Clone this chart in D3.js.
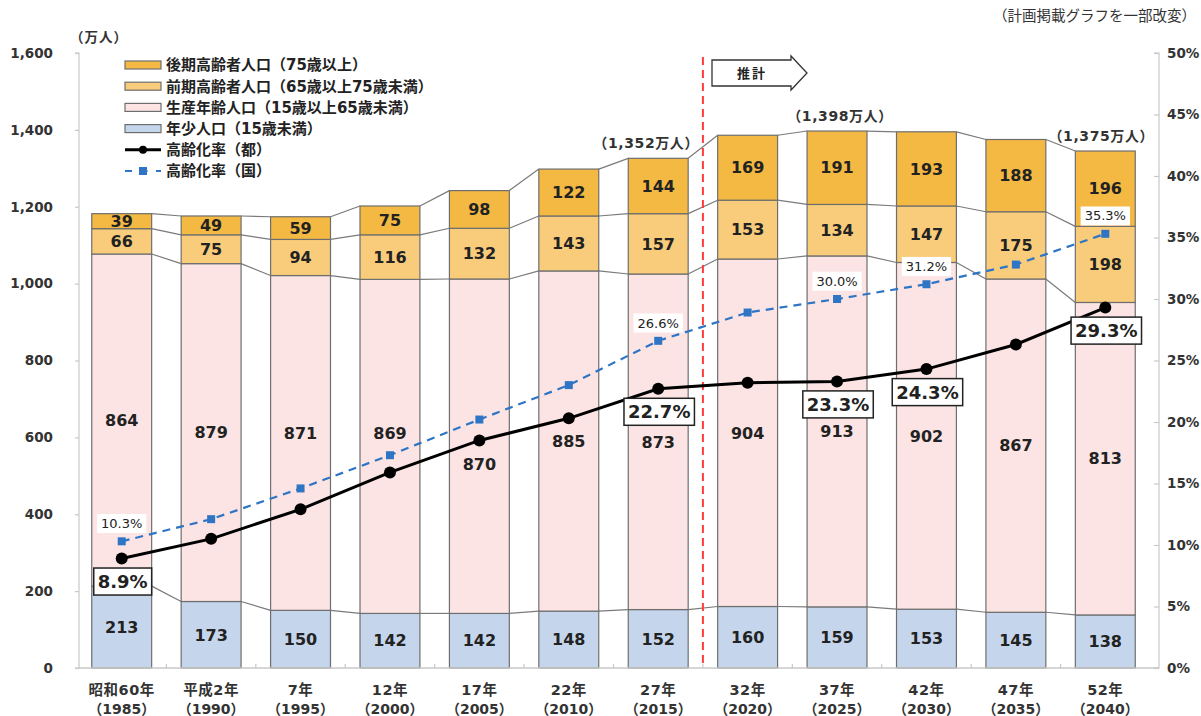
<!DOCTYPE html>
<html><head><meta charset="utf-8">
<script src="https://cdn.jsdelivr.net/npm/d3@7"></script>
<style>
html,body{margin:0;padding:0;background:#fff;}
svg text{font-family:"DejaVu Sans","Noto Sans CJK JP",sans-serif;}
</style></head>
<body>
<svg id="c" width="1201" height="716"></svg>
<script>
const categories = ["昭和60年","平成2年","7年","12年","17年","22年","27年","32年","37年","42年","47年","52年"];
const years = ["1985","1990","1995","2000","2005","2010","2015","2020","2025","2030","2035","2040"];
const youngPop   = [213,173,150,142,142,148,152,160,159,153,145,138];
const workingPop = [864,879,871,869,870,885,873,904,913,902,867,813];
const earlyOld   = [66,75,94,116,132,143,157,153,134,147,175,198];
const lateOld    = [39,49,59,75,98,122,144,169,191,193,188,196];
const rateTokyo  = [8.9,10.5,12.9,15.9,18.5,20.3,22.7,23.2,23.3,24.3,26.3,29.3];
const rateJapan  = [10.3,12.1,14.6,17.3,20.2,23.0,26.6,28.9,30.0,31.2,32.8,35.3];
const labeledRateIdx = [0,6,8,9,11];
const totalLabels = [null,null,null,null,null,null,"（1,352万人）",null,"（1,398万人）",null,null,"（1,375万人）"];
const leftTicks = [0,200,400,600,800,1000,1200,1400,1600];
const rightTicks = [0,5,10,15,20,25,30,35,40,45,50];

const seriesNames = ["年少人口（15歳未満）","生産年齢人口（15歳以上65歳未満）","前期高齢者人口（65歳以上75歳未満）","後期高齢者人口（75歳以上）"];
const seriesColors = ["#c5d6ec","#fce4e4","#f8cc7a","#f4b942"];
const seriesData = [youngPop, workingPop, earlyOld, lateOld];

const svg = d3.select("#c");
const FONT = '"DejaVu Sans","Noto Sans CJK JP",sans-serif';

const x = d3.scaleBand().domain(categories).range([77,1150]).paddingInner(0.33).paddingOuter(0.165);
const y = d3.scaleLinear().domain([0,1600]).range([668,53]);
const yp = d3.scaleLinear().domain([0,50]).range([668,53]);
const bw = x.bandwidth();

const rows = categories.map((c,i)=>{const o={cat:c}; seriesData.forEach((s,k)=>o["s"+k]=s[i]); return o;});
const stack = d3.stack().keys(["s0","s1","s2","s3"])(rows);

const g = svg.append("g");
stack.forEach((layer,k)=>{
  g.selectAll(null).data(layer).enter().append("rect")
    .attr("x",d=>x(d.data.cat)).attr("width",bw)
    .attr("y",d=>y(d[1])).attr("height",d=>y(d[0])-y(d[1]))
    .attr("fill",seriesColors[k]).attr("stroke","#6e6e6e").attr("stroke-width",1.2);
});
stack.forEach((layer)=>{
  for(let i=0;i<layer.length-1;i++){
    g.append("line")
      .attr("x1",x(categories[i])+bw).attr("x2",x(categories[i+1]))
      .attr("y1",y(layer[i][1])).attr("y2",y(layer[i+1][1]))
      .attr("stroke","#7a7a7a").attr("stroke-width",1.2);
  }
});

const axisColor="#c8c8c8";
const gl = svg.append("g").attr("transform","translate(79,0)")
  .call(d3.axisLeft(y).tickValues(leftTicks).tickSize(4).tickPadding(22).tickFormat(d3.format(",")));
const gr = svg.append("g").attr("transform","translate(1159,0)")
  .call(d3.axisRight(yp).tickValues(rightTicks).tickSize(-5).tickPadding(8).tickFormat(d=>d+"%"));
[gl,gr].forEach(a=>{
  a.selectAll("path,line").attr("stroke",axisColor).attr("stroke-width",1.2);
  a.select(".domain").attr("d", a===gl? "M-4,53H0V668H-4":"M-5,53H0V668H-5");
  a.selectAll("text").attr("font-family",FONT).attr("font-size",13.5).attr("font-weight","bold").attr("fill","#333");
});
svg.append("line").attr("x1",79).attr("x2",1159).attr("y1",668).attr("y2",668).attr("stroke",axisColor).attr("stroke-width",1.5);
for(let i=1;i<categories.length;i++){
  const bx = x(categories[i]) - x.step()*x.paddingInner()/2;
  svg.append("line").attr("x1",bx).attr("x2",bx).attr("y1",668).attr("y2",664).attr("stroke",axisColor).attr("stroke-width",1.2);
}
categories.forEach((c,i)=>{
  const cx = x(c)+bw/2;
  svg.append("text").attr("x",cx).attr("y",695).attr("text-anchor","middle")
    .attr("font-size",14.5).attr("font-weight","bold").attr("fill","#333").attr("letter-spacing","0.5px").text(c);
  svg.append("text").attr("x",cx).attr("y",714).attr("text-anchor","middle")
    .attr("font-size",14).attr("font-weight","bold").attr("fill","#333").text("（"+years[i]+"）");
});

const workDy = [0,0,-10,-13,18,0,0,0,0,0,0,0];
stack.forEach((layer,k)=>{
  layer.forEach((d,i)=>{
    let cy = (y(d[0])+y(d[1]))/2 + (k===1?workDy[i]:0);
    svg.append("text").attr("x",x(d.data.cat)+bw/2).attr("y",cy).attr("dy","0.36em")
      .attr("text-anchor","middle").attr("font-size",16).attr("font-weight","bold").attr("fill","#222")
      .text(d[1]-d[0]);
  });
});

const divX = (x(categories[6])+bw + x(categories[7]))/2;
svg.append("line").attr("x1",divX).attr("x2",divX).attr("y1",57).attr("y2",668)
  .attr("stroke","#ff3b3b").attr("stroke-width",2).attr("stroke-dasharray","8,5");

svg.append("path").attr("d","M712,60H791V56L807,73L791,90V86H712Z")
  .attr("fill","#fff").attr("stroke","#333").attr("stroke-width",1.3);
svg.append("text").attr("x",752).attr("y",73).attr("dy","0.36em").attr("text-anchor","middle")
  .attr("font-size",13).attr("font-weight","bold").attr("fill","#222").attr("letter-spacing","2px").text("推計");

const totalDx = [0,0,0,0,0,0,-12,0,3,0,0,-4];
totalLabels.forEach((t,i)=>{
  if(!t) return;
  const tot = youngPop[i]+workingPop[i]+earlyOld[i]+lateOld[i];
  svg.append("text").attr("x",x(categories[i])+bw/2+totalDx[i]).attr("y",y(tot)-15).attr("dy","0.36em")
    .attr("text-anchor","middle").attr("font-size",14).attr("font-weight","bold").attr("fill","#333")
    .attr("letter-spacing","0.6px").text(t);
});

const cx = (i)=>x(categories[i])+bw/2;
const lineJ = d3.line().x((d,i)=>cx(i)).y(d=>yp(d));
svg.append("path").datum(rateJapan).attr("d",lineJ).attr("fill","none")
  .attr("stroke","#2e75c6").attr("stroke-width",2.2).attr("stroke-dasharray","8,6");
svg.append("path").datum(rateTokyo).attr("d",lineJ).attr("fill","none")
  .attr("stroke","#000").attr("stroke-width",3);
svg.selectAll(null).data(rateJapan).enter().append("rect")
  .attr("x",(d,i)=>cx(i)-4).attr("y",d=>yp(d)-4).attr("width",8).attr("height",8).attr("fill","#2e75c6");
svg.selectAll(null).data(rateTokyo).enter().append("circle")
  .attr("cx",(d,i)=>cx(i)).attr("cy",d=>yp(d)).attr("r",6).attr("fill","#000");

labeledRateIdx.forEach(i=>{
  const jt = rateJapan[i].toFixed(1)+"%";
  const jy = yp(rateJapan[i])-18;
  const jg = svg.append("g");
  const jtxt = jg.append("text").attr("x",cx(i)).attr("y",jy).attr("dy","0.36em").attr("text-anchor","middle")
    .attr("font-size",13).attr("fill","#222").text(jt);
  const jb = jtxt.node().getBBox();
  jg.insert("rect","text").attr("x",jb.x-4).attr("y",jb.y-2).attr("width",jb.width+8).attr("height",jb.height+4).attr("fill","#fff");
  const tt = rateTokyo[i].toFixed(1)+"%";
  const ty = yp(rateTokyo[i])+23;
  const tg = svg.append("g");
  const ttxt = tg.append("text").attr("x",cx(i)+1).attr("y",ty).attr("dy","0.36em").attr("text-anchor","middle")
    .attr("font-size",18).attr("font-weight","bold").attr("fill","#222").text(tt);
  const tb = ttxt.node().getBBox();
  tg.insert("rect","text").attr("x",tb.x-4).attr("y",ty-13.5).attr("width",tb.width+8).attr("height",27)
    .attr("fill","#fff").attr("stroke","#222").attr("stroke-width",1.5);
});

const legendItems = [
  {t:seriesNames[3],type:"box",c:seriesColors[3]},
  {t:seriesNames[2],type:"box",c:seriesColors[2]},
  {t:seriesNames[1],type:"box",c:seriesColors[1]},
  {t:seriesNames[0],type:"box",c:seriesColors[0]},
  {t:"高齢化率（都）",type:"lineT"},
  {t:"高齢化率（国）",type:"lineJ"}
];
legendItems.forEach((it,j)=>{
  const ly = 65 + j*21.2;
  if(it.type==="box"){
    svg.append("rect").attr("x",125).attr("y",ly-4).attr("width",36).attr("height",8)
      .attr("fill",it.c).attr("stroke","#6e6e6e").attr("stroke-width",1.2);
  } else if(it.type==="lineT"){
    svg.append("line").attr("x1",125).attr("x2",161).attr("y1",ly).attr("y2",ly).attr("stroke","#000").attr("stroke-width",3);
    svg.append("circle").attr("cx",143).attr("cy",ly).attr("r",4).attr("fill","#000");
  } else {
    svg.append("line").attr("x1",125).attr("x2",161).attr("y1",ly).attr("y2",ly).attr("stroke","#2e75c6").attr("stroke-width",2.2).attr("stroke-dasharray","7,8.5");
    svg.append("rect").attr("x",139).attr("y",ly-4).attr("width",8).attr("height",8).attr("fill","#2e75c6");
  }
  svg.append("text").attr("x",166).attr("y",ly).attr("dy","0.36em").attr("font-size",15).attr("font-weight","bold")
    .attr("fill","#222").text(it.t);
});

svg.append("text").attr("x",70).attr("y",37).attr("dy","0.36em").attr("font-size",13.5).attr("font-weight","bold").attr("fill","#333").attr("letter-spacing","1px").text("（万人）");
svg.append("text").attr("x",1196).attr("y",16).attr("dy","0.36em").attr("text-anchor","end").attr("font-size",14.5).attr("fill","#333").text("（計画掲載グラフを一部改変）");
</script>
</body></html>
